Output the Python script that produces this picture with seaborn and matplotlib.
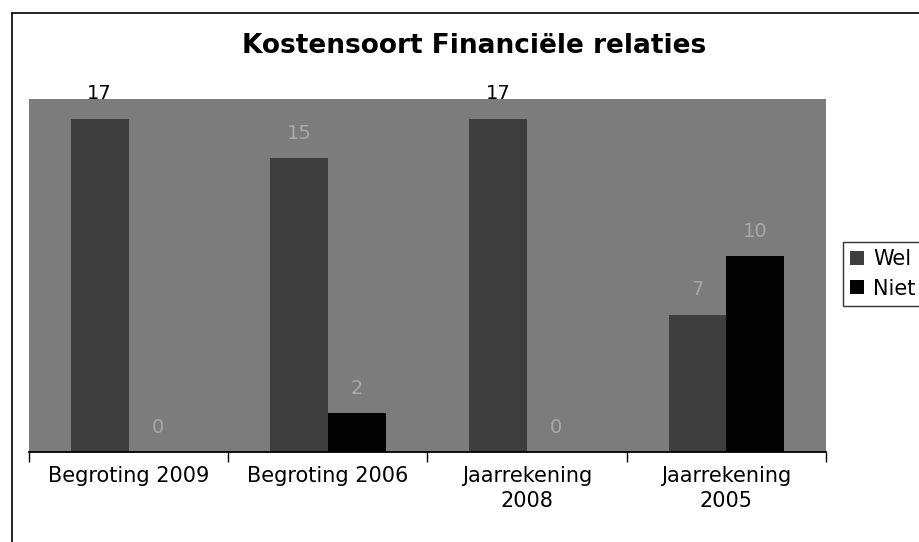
import pandas as pd
import matplotlib
matplotlib.use("Agg")
from matplotlib import pyplot as plt
from matplotlib.lines import Line2D
import seaborn as sns

# data
categories = ["Begroting 2009", "Begroting 2006", "Jaarrekening\n2008", "Jaarrekening\n2005"]
wel = [17, 15, 17, 7]
niet = [0, 2, 0, 10]
series = ["Wel", "Niet"]

df = pd.DataFrame({
    "categorie": categories * 2,
    "serie": ["Wel"] * len(categories) + ["Niet"] * len(categories),
    "aantal": wel + niet,
})

sns.set_theme(style="white")
plt.rcParams['font.family'] = ['DejaVu Sans']
plt.rcParams['text.color'] = 'black'
plt.rcParams['xtick.color'] = 'black'

fig = plt.figure(figsize=(9.2, 5.42), dpi=100)
ax = fig.add_axes([29 / 920, 1 - 452 / 542, (826 - 29) / 920, (452 - 99) / 542])
ax.set_facecolor("#7c7c7c")

sns.barplot(data=df, x="categorie", y="aantal", hue="serie", hue_order=series,
            palette={"Wel": "#3e3e3e", "Niet": "#030303"}, width=0.58,
            saturation=1, linewidth=0, ax=ax, legend=True)

ymax = 18
for cont in ax.containers:
    texts = ax.bar_label(cont, fontsize=14, color="#a8a8a8", padding=11, clip_on=False)
    # labels that end up above the grey plot area read as black in the scan
    for t, v in zip(texts, cont.datavalues):
        if v / ymax > 0.9:
            t.set_color("black")

ax.set_ylim(0, ymax)
ax.set_xlim(-0.5, 3.5)
ax.set_xlabel("")
ax.set_ylabel("")
ax.set_yticks([])
for s in ["left", "top", "right"]:
    ax.spines[s].set_visible(False)
ax.spines["bottom"].set_color("black")
ax.spines["bottom"].set_linewidth(1.3)

ax.set_xticks(range(len(categories)))
ax.set_xticklabels(categories, fontsize=15, linespacing=1.3)
ax.tick_params(axis="x", which="major", length=0, pad=10)
ax.set_xticks([-0.5, 0.5, 1.5, 2.5, 3.5], minor=True)
ax.tick_params(axis="x", which="minor", length=7, width=1, color="black", direction="out", bottom=True)

fig.suptitle("Kostensoort Financiële relaties", x=474 / 920, y=1 - 46 / 542,
             fontsize=19, fontweight="bold", va="center")

handles, labels = ax.get_legend_handles_labels()
ax.legend(handles, labels, loc="upper left", bbox_to_anchor=(843 / 920, 1 - 242 / 542),
          bbox_transform=fig.transFigure, frameon=True, fancybox=False,
          edgecolor="black", fontsize=15, handlelength=0.65, handleheight=0.65,
          handletextpad=0.45, borderpad=0.35, labelspacing=0.45, borderaxespad=0)

# outer chart border (right/bottom fall outside the image)
fig.add_artist(Line2D([12 / 920, 12 / 920], [0, 1 - 13 / 542], color="black", lw=1.2))
fig.add_artist(Line2D([12 / 920, 1], [1 - 13 / 542, 1 - 13 / 542], color="black", lw=1.2))

plt.savefig("out.png", dpi=100)
plt.close()
